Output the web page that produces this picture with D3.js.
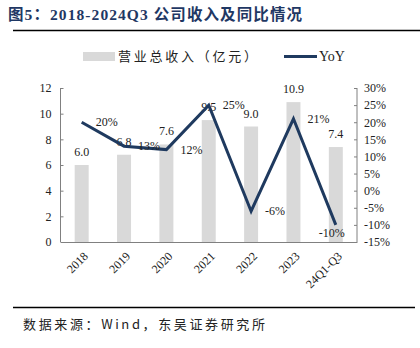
<!DOCTYPE html>
<html><head><meta charset="utf-8">
<script src="https://cdn.jsdelivr.net/npm/d3@7"></script>
<style>body{margin:0;background:#fff}svg{display:block}</style>
</head><body>
<script>
const categories = ["2018","2019","2020","2021","2022","2023","24Q1-Q3"];
const revenue = [6.0, 6.8, 7.6, 9.5, 9.0, 10.9, 7.4];
const yoy = [20, 13, 12, 25, -6, 21, -10];
const leftTicks = [0,2,4,6,8,10,12];
const rightTicks = [-15,-10,-5,0,5,10,15,20,25,30];

const W = 420, H = 348;
const serif = "'Liberation Serif','Times New Roman',serif";
const cjk = "'Noto Sans CJK SC','Liberation Serif',serif";
const navy = "#1f3a5f";
const svg = d3.select("body").append("svg").attr("width", W).attr("height", H);

// title
svg.append("text").attr("x", 8).attr("y", 20)
  .attr("font-family", "'Liberation Serif','Noto Sans CJK SC',serif").attr("font-weight", "bold")
  .attr("font-size", 15.5).attr("fill", "#1f3864")
  .attr("textLength", 294).attr("lengthAdjust", "spacing")
  .text("图5：2018-2024Q3 公司收入及同比情况");
svg.append("line").attr("x1", 13).attr("x2", 420).attr("y1", 30.5).attr("y2", 30.5)
  .attr("stroke", "#000").attr("stroke-width", 1.5);

const L = 60.5, R = 357, T = 88, B = 242;
const x = d3.scaleBand().domain(categories).range([L, R]).paddingInner(0.67).paddingOuter(0.335);
const yL = d3.scaleLinear().domain([0, 12]).range([B, T]);
const yR = d3.scaleLinear().domain([-15, 30]).range([B, T]);

// bars
svg.append("g").selectAll("rect").data(revenue).enter().append("rect")
  .attr("x", (d,i) => x(categories[i])).attr("width", x.bandwidth())
  .attr("y", d => yL(d)).attr("height", d => B - yL(d)).attr("fill", "#d9d9d9");

// bar labels
svg.append("g").selectAll("text").data(revenue).enter().append("text")
  .attr("x", (d,i) => x(categories[i]) + x.bandwidth()/2).attr("y", d => yL(d) - 9)
  .attr("text-anchor", "middle").attr("font-family", serif).attr("font-size", 12).attr("fill", "#222")
  .text(d => d.toFixed(1));

// axes
const axL = svg.append("g").attr("transform", `translate(${L},0)`)
  .call(d3.axisRight(yL).tickValues(leftTicks).tickSize(3).tickFormat(d3.format("d")));
axL.selectAll("text").attr("x", -9).attr("text-anchor", "end");
const axR = svg.append("g").attr("transform", `translate(${R},0)`)
  .call(d3.axisLeft(yR).tickValues(rightTicks).tickSize(3).tickFormat(d => d + "%"));
axR.selectAll("text").attr("x", 7).attr("text-anchor", "start");
[axL, axR].forEach(a => {
  a.select(".domain").attr("d", `M0,${T}V${B}`).attr("stroke", "#808080");
  a.selectAll(".tick line").attr("stroke", "#808080");
  a.selectAll("text").attr("font-family", serif).attr("font-size", 12).attr("fill", "#222");
});
const axB = svg.append("g").attr("transform", `translate(0,${B})`)
  .call(d3.axisBottom(x).tickSize(0).tickSizeOuter(0));
axB.select(".domain").attr("stroke", "#808080");
axB.selectAll("text").attr("font-family", serif).attr("font-size", 12).attr("fill", "#222")
  .attr("text-anchor", "end").attr("dy", "0.35em")
  .attr("transform", "translate(4,12) rotate(-45)").attr("x", 0).attr("y", 0);

// line
const line = d3.line().x((d,i) => x(categories[i]) + x.bandwidth()/2).y(d => yR(d));
svg.append("path").datum(yoy).attr("d", line).attr("fill", "none")
  .attr("stroke", navy).attr("stroke-width", 3).attr("stroke-linejoin", "miter");

// yoy labels
svg.append("g").selectAll("text").data(yoy).enter().append("text")
  .attr("x", (d,i) => x(categories[i]) + x.bandwidth()/2 + (i === yoy.length-1 ? -4 : 14))
  .attr("y", (d,i) => yR(d) + (i === yoy.length-1 ? 12 : 4))
  .attr("text-anchor", (d,i) => i === yoy.length-1 ? "middle" : "start")
  .attr("font-family", serif).attr("font-size", 12).attr("fill", "#222")
  .text(d => d + "%");

// legend
svg.append("rect").attr("x", 83).attr("y", 52).attr("width", 32).attr("height", 9).attr("fill", "#d9d9d9");
svg.append("text").attr("x", 118).attr("y", 61).attr("font-family", cjk).attr("font-size", 13).attr("fill", "#222")
  .attr("textLength", 139).attr("lengthAdjust", "spacing")
  .text("营业总收入（亿元）");
svg.append("line").attr("x1", 284).attr("x2", 317).attr("y1", 56.5).attr("y2", 56.5).attr("stroke", navy).attr("stroke-width", 3);
svg.append("text").attr("x", 319).attr("y", 61).attr("font-family", serif).attr("font-size", 14).attr("fill", "#222").text("YoY");

// source
svg.append("line").attr("x1", 13).attr("x2", 415).attr("y1", 307.5).attr("y2", 307.5).attr("stroke", "#000").attr("stroke-width", 1.5);
svg.append("text").attr("x", 23).attr("y", 329).attr("font-family", cjk).attr("font-size", 13).attr("fill", "#222")
  .attr("textLength", 242).attr("lengthAdjust", "spacing")
  .text("数据来源：Wind，东吴证券研究所");
</script>
</body></html>
